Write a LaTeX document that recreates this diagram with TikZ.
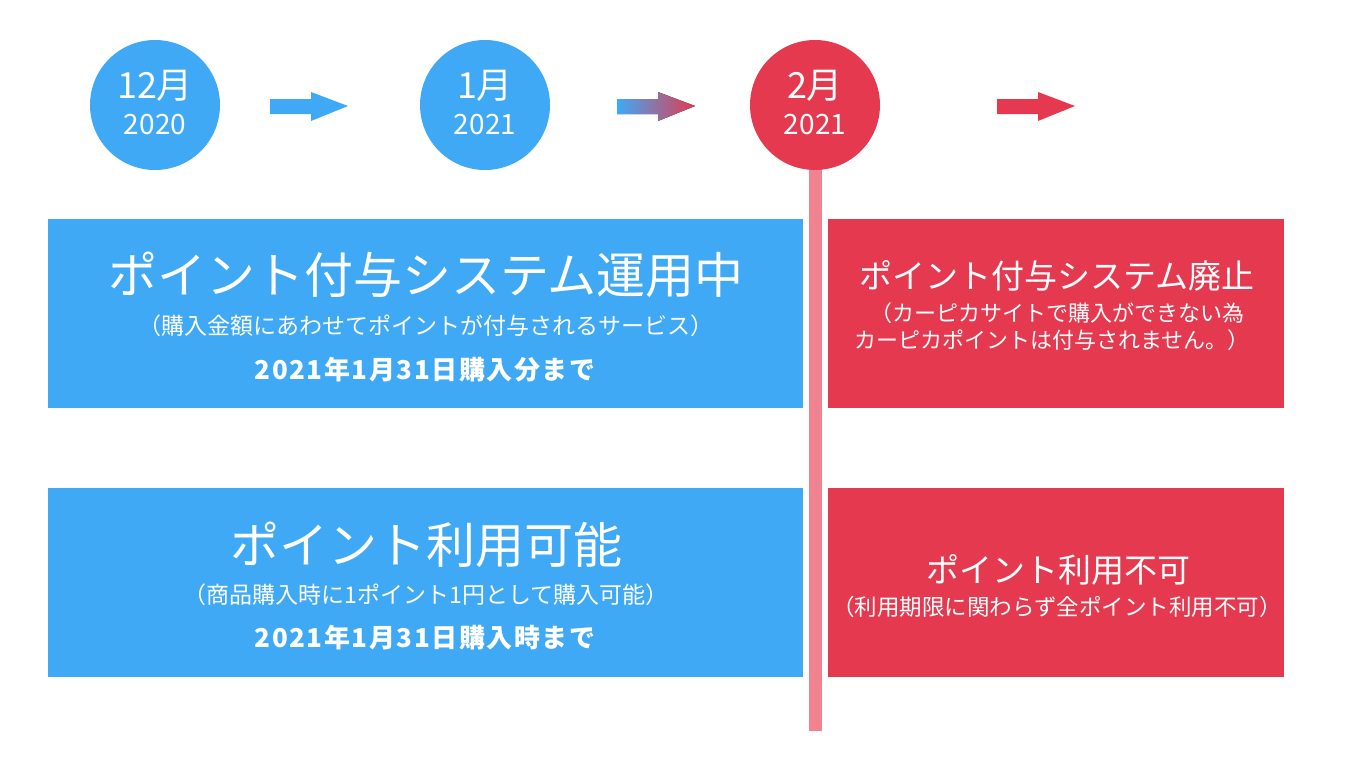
\documentclass[tikz,border=0pt]{standalone}
\usepackage{fontspec}
\setmainfont{Noto Sans CJK JP}
\usetikzlibrary{positioning}
\definecolor{tlblue}{HTML}{3FA9F5}
\definecolor{tlred}{HTML}{E5394F}
\definecolor{tlpink}{HTML}{F0838F}
\tikzset{
    month/.style={circle, fill=#1, minimum size=130pt, inner sep=0pt},
    year/.style={text=white, font=\fontsize{28}{30}\selectfont},
    monthtext/.style={text=white, font=\fontsize{36}{40}\selectfont},
    panel/.style={fill=#1, minimum height=189pt, inner sep=0pt},
    bigtitle/.style={text=white, font=\fontsize{49}{54}\selectfont},
    smalltitle/.style={text=white, font=\fontsize{33}{38}\selectfont},
    note/.style={text=white, font=\fontsize{#1}{#1}\selectfont},
    datenote/.style={text=white, font=\bfseries\fontsize{26}{30}\selectfont\addfontfeature{LetterSpace=6}},
}
\newcommand{\timearrow}[2]{%
    \fill[#2] (#1,99) -- ++(41,0) -- ++(0,-7) -- ++(37,14) -- ++(-37,15) -- ++(0,-7)
        -- ++(-41,0) -- cycle;}
\begin{document}
\begin{tikzpicture}[x=1pt, y=-1pt]
    \useasboundingbox (0,0) rectangle (1366,768);

    % timeline bar
    \coordinate (barend) at (815,731);
    \fill[tlpink] (809,150) rectangle (barend -| 822,0);

    % months
    \node[month=tlblue] (dec) at (155,105) {};
    \node[month=tlblue] (jan) at (485,105) {};
    \node[month=tlred] (feb) at (815,105) {};
    \foreach \c/\y/\m in {dec/2020/12月, jan/2021/1月, feb/2021/2月}{
        \node[year] (\c year) at ([yshift=-20pt]\c.center) {\y};
        \node[monthtext] (\c month) at ([yshift=19pt]\c.center) {\m};
    }

    % arrows
    \timearrow{270}{tlblue}
    \timearrow{617}{left color=tlblue, right color=tlred}
    \timearrow{997}{tlred}

    % panels
    \node[panel=tlblue, minimum width=755pt, anchor=north west] (grant) at (48,219) {};
    \node[panel=tlred, minimum width=456pt, anchor=north west] (stop) at (828,219) {};
    \node[panel=tlblue, minimum width=755pt, anchor=north west] (use) at (48,488) {};
    \node[panel=tlred, minimum width=456pt, anchor=north west] (nouse) at (828,488) {};

    \node[bigtitle] (granttitle) at (426,275) {ポイント付与システム運用中};
    \node[note=23] (grantsub) at (426,326) {（購入金額にあわせてポイントが付与されるサービス）};
    \node[datenote] (grantdate) at (425,370) {2021年1月31日購入分まで};

    \node[smalltitle] (stoptitle) at (1057,276) {ポイント付与システム廃止};
    \node[note=22] (stopsub) at (1057,313) {（カーピカサイトで購入ができない為};
    \node[note=22] (stopsubb) at (1052,340) {カーピカポイントは付与されません。）};

    \node[bigtitle] (usetitle) at (426,545) {ポイント利用可能};
    \node[note=23] (usesub) at (426,595) {（商品購入時に1ポイント1円として購入可能）};
    \node[datenote] (usedate) at (425,638) {2021年1月31日購入時まで};

    \node[smalltitle] (nousetitle) at (1058,570) {ポイント利用不可};
    \node[note=22.5] (nousesub) at (1057,607) {（利用期限に関わらず全ポイント利用不可）};
\end{tikzpicture}
\end{document}
